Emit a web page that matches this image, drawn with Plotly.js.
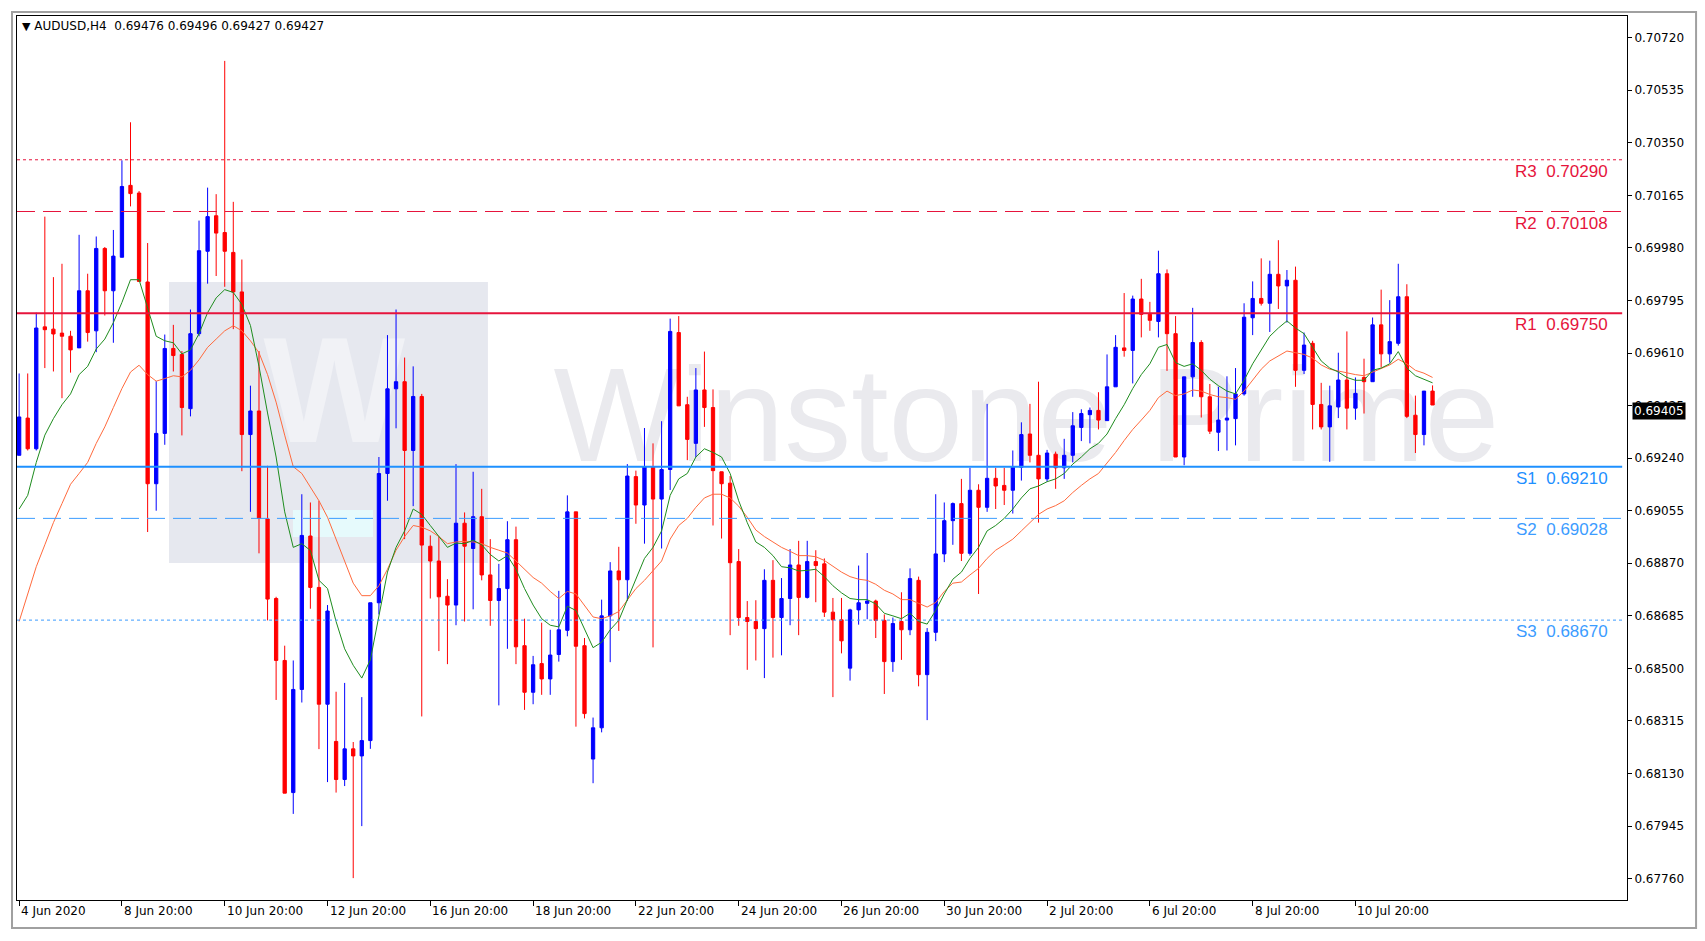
<!DOCTYPE html>
<html><head><meta charset="utf-8">
<script src="https://cdn.plot.ly/plotly-3.0.1.min.js"></script>
<style>html,body{margin:0;padding:0;background:#fff;} #chart{width:1705px;height:941px;}</style>
</head><body><div id="chart"></div>
<script>
const symbolName = "AUDUSD,H4";
const lastBarText = ["0.69476", "0.69496", "0.69427", "0.69427"];
const currentPrice = 0.69405;

const openP = [0.69250,0.69381,0.69273,0.69702,0.69694,0.69680,0.69669,0.69628,0.69829,0.69688,
0.69978,0.69829,0.69947,0.70200,0.70173,0.69860,0.69150,0.69327,0.69626,0.69605,
0.69414,0.69678,0.69968,0.70093,0.70034,0.69964,0.69825,0.69323,0.69406,0.69026,
0.68746,0.68528,0.68063,0.68426,0.68966,0.68785,0.68374,0.68243,0.68109,0.68217,
0.68192,0.68246,0.68731,0.69186,0.69484,0.69509,0.69267,0.69457,0.68930,0.68878,
0.68754,0.68723,0.69011,0.68922,0.69034,0.68829,0.68739,0.68781,0.68953,0.68580,
0.68416,0.68517,0.68463,0.68549,0.68634,0.69051,0.68580,0.68181,0.68291,0.68685,
0.68843,0.68812,0.69175,0.69075,0.69209,0.69096,0.69200,0.69682,0.69428,0.69292,
0.69480,0.69418,0.69192,0.69152,0.68876,0.68679,0.68665,0.68640,0.68810,0.68679,
0.68746,0.68864,0.68750,0.68876,0.68868,0.68698,0.68671,0.68501,0.68706,0.68729,
0.68737,0.68669,0.68524,0.68665,0.68636,0.68810,0.68478,0.68627,0.68903,0.69020,
0.69080,0.68905,0.69127,0.69067,0.69169,0.69144,0.69127,0.69208,0.69325,0.69250,
0.69167,0.69254,0.69206,0.69250,0.69348,0.69393,0.69408,0.69372,0.69491,0.69628,
0.69619,0.69800,0.69746,0.69721,0.69889,0.69678,0.69244,0.69526,0.69647,0.69456,
0.69331,0.69374,0.69379,0.69466,0.69734,0.69802,0.69785,0.69887,0.69846,0.69866,
0.69549,0.69644,0.69429,0.69350,0.69420,0.69515,0.69416,0.69524,0.69509,0.69709,
0.69607,0.69644,0.69808,0.69391,0.69323,0.69476];
const highP = [0.69538,0.69538,0.69752,0.70090,0.69877,0.69924,0.69688,0.70026,0.69889,0.70020,
0.69983,0.70043,0.70288,0.70422,0.70180,0.69997,0.69511,0.69675,0.69709,0.69617,
0.69763,0.70076,0.70192,0.70169,0.70638,0.70142,0.69939,0.69495,0.69617,0.69213,
0.68752,0.68580,0.68528,0.69113,0.69084,0.69090,0.68723,0.68418,0.68449,0.68241,
0.68399,0.68731,0.69244,0.69673,0.69763,0.69594,0.69563,0.69466,0.68968,0.68964,
0.68814,0.69219,0.69049,0.69192,0.69132,0.68955,0.68868,0.69018,0.68999,0.68675,
0.68544,0.68661,0.68636,0.68773,0.69109,0.69051,0.68607,0.68327,0.68742,0.68874,
0.68928,0.69219,0.69196,0.69346,0.69292,0.69370,0.69731,0.69740,0.69456,0.69557,
0.69615,0.69482,0.69192,0.69177,0.68920,0.68737,0.68740,0.68849,0.68881,0.68818,
0.68920,0.68949,0.68949,0.68916,0.68887,0.68748,0.68748,0.68710,0.68862,0.68906,
0.68742,0.68690,0.68679,0.68768,0.68852,0.68823,0.68642,0.69113,0.69084,0.69084,
0.69167,0.69206,0.69148,0.69431,0.69206,0.69206,0.69267,0.69366,0.69431,0.69509,
0.69269,0.69263,0.69308,0.69402,0.69412,0.69418,0.69472,0.69605,0.69673,0.69821,
0.69812,0.69871,0.69790,0.69970,0.69904,0.69740,0.69526,0.69769,0.69655,0.69501,
0.69491,0.69528,0.69557,0.69785,0.69862,0.69943,0.69935,0.70007,0.69902,0.69914,
0.69682,0.69653,0.69505,0.69495,0.69611,0.69686,0.69524,0.69590,0.69735,0.69833,
0.69796,0.69924,0.69852,0.69460,0.69476,0.69496];
const lowP = [0.69250,0.69267,0.69267,0.69557,0.69545,0.69451,0.69541,0.69628,0.69650,0.69613,
0.69742,0.69646,0.69947,0.70126,0.69862,0.68980,0.69055,0.69287,0.69545,0.69320,
0.69387,0.69669,0.69854,0.69881,0.69843,0.69694,0.69194,0.69051,0.68905,0.68669,
0.68389,0.68061,0.67988,0.68380,0.68710,0.68216,0.68100,0.68063,0.68086,0.67762,
0.67945,0.68217,0.68690,0.69090,0.69345,0.68955,0.69071,0.68331,0.68746,0.68561,
0.68515,0.68652,0.68665,0.68708,0.68810,0.68650,0.68370,0.68569,0.68515,0.68354,
0.68374,0.68407,0.68407,0.68524,0.68613,0.68295,0.68324,0.68096,0.68275,0.68522,
0.68632,0.68737,0.69009,0.68939,0.68574,0.68922,0.69128,0.69424,0.69233,0.69244,
0.69350,0.69003,0.68957,0.68617,0.68650,0.68495,0.68528,0.68466,0.68538,0.68546,
0.68652,0.68617,0.68746,0.68733,0.68681,0.68399,0.68553,0.68457,0.68654,0.68673,
0.68607,0.68410,0.68488,0.68530,0.68617,0.68437,0.68318,0.68596,0.68874,0.68935,
0.68878,0.68897,0.68762,0.69051,0.69061,0.69075,0.69045,0.69161,0.69225,0.69013,
0.69157,0.69132,0.69167,0.69225,0.69300,0.69292,0.69341,0.69372,0.69491,0.69597,
0.69503,0.69665,0.69688,0.69665,0.69547,0.69244,0.69215,0.69456,0.69383,0.69325,
0.69265,0.69267,0.69285,0.69460,0.69673,0.69777,0.69684,0.69765,0.69717,0.69491,
0.69536,0.69341,0.69341,0.69227,0.69381,0.69341,0.69375,0.69397,0.69509,0.69559,
0.69576,0.69636,0.69381,0.69258,0.69285,0.69427];
const closeP = [0.69385,0.69273,0.69698,0.69692,0.69677,0.69669,0.69621,0.69829,0.69682,0.69978,
0.69829,0.69951,0.70196,0.70171,0.69862,0.69150,0.69327,0.69626,0.69601,0.69418,
0.69678,0.69970,0.70090,0.70032,0.69968,0.69825,0.69323,0.69406,0.69028,0.68744,
0.68528,0.68061,0.68426,0.68968,0.68785,0.68374,0.68702,0.68109,0.68217,0.68192,
0.68246,0.68731,0.69186,0.69484,0.69509,0.69267,0.69457,0.68934,0.68878,0.68752,
0.68723,0.69011,0.68930,0.69034,0.68829,0.68739,0.68781,0.68953,0.68576,0.68416,
0.68513,0.68463,0.68547,0.68636,0.69051,0.68578,0.68341,0.68291,0.68685,0.68843,
0.68812,0.69177,0.69075,0.69209,0.69096,0.69200,0.69686,0.69424,0.69306,0.69480,
0.69418,0.69196,0.69150,0.68872,0.68679,0.68665,0.68640,0.68810,0.68679,0.68746,
0.68864,0.68750,0.68876,0.68862,0.68698,0.68671,0.68597,0.68706,0.68731,0.68737,
0.68669,0.68524,0.68658,0.68636,0.68816,0.68478,0.68627,0.68903,0.69020,0.69080,
0.68905,0.69127,0.69067,0.69169,0.69142,0.69127,0.69208,0.69323,0.69250,0.69167,
0.69258,0.69206,0.69250,0.69354,0.69397,0.69408,0.69374,0.69491,0.69630,0.69619,
0.69800,0.69746,0.69725,0.69889,0.69678,0.69244,0.69526,0.69647,0.69456,0.69335,
0.69374,0.69381,0.69466,0.69736,0.69802,0.69785,0.69887,0.69846,0.69866,0.69549,
0.69638,0.69429,0.69350,0.69424,0.69515,0.69416,0.69468,0.69509,0.69709,0.69607,
0.69650,0.69808,0.69387,0.69323,0.69476,0.69427];

const maFast = [0.69061,0.69109,0.69225,0.69321,0.69379,0.69428,0.69466,0.69534,0.69563,0.69624,
0.69659,0.69717,0.69788,0.69868,0.69868,0.69765,0.69669,0.69653,0.69646,0.69607,
0.69621,0.69678,0.69752,0.69804,0.69833,0.69823,0.69781,0.69707,0.69563,0.69399,
0.69244,0.69051,0.68926,0.68939,0.68915,0.68810,0.68781,0.68665,0.68569,0.68511,
0.68466,0.68530,0.68685,0.68839,0.68926,0.68984,0.69061,0.69042,0.69003,0.68964,
0.68926,0.68941,0.68939,0.68951,0.68935,0.68901,0.68878,0.68897,0.68849,0.68781,
0.68723,0.68675,0.68652,0.68646,0.68719,0.68704,0.68636,0.68573,0.68592,0.68636,
0.68669,0.68742,0.68820,0.68887,0.68926,0.68984,0.69109,0.69167,0.69186,0.69244,
0.69273,0.69260,0.69244,0.69186,0.69090,0.69013,0.68945,0.68926,0.68897,0.68858,
0.68854,0.68843,0.68845,0.68849,0.68823,0.68791,0.68766,0.68746,0.68742,0.68742,
0.68727,0.68694,0.68685,0.68675,0.68694,0.68665,0.68656,0.68704,0.68762,0.68814,
0.68839,0.68887,0.68926,0.68984,0.69003,0.69028,0.69061,0.69100,0.69132,0.69142,
0.69157,0.69167,0.69186,0.69219,0.69244,0.69273,0.69292,0.69325,0.69379,0.69428,
0.69485,0.69534,0.69572,0.69630,0.69640,0.69576,0.69563,0.69572,0.69549,0.69518,
0.69495,0.69476,0.69466,0.69514,0.69572,0.69621,0.69669,0.69698,0.69723,0.69698,
0.69678,0.69630,0.69582,0.69557,0.69543,0.69524,0.69514,0.69514,0.69549,0.69557,
0.69572,0.69615,0.69557,0.69530,0.69518,0.69505];
const maSlow = [0.68665,0.68762,0.68858,0.68935,0.69013,0.69080,0.69148,0.69186,0.69225,0.69292,
0.69350,0.69418,0.69485,0.69543,0.69567,0.69534,0.69511,0.69520,0.69530,0.69526,
0.69549,0.69586,0.69630,0.69659,0.69688,0.69706,0.69688,0.69653,0.69611,0.69534,
0.69437,0.69321,0.69210,0.69186,0.69138,0.69090,0.69032,0.68955,0.68878,0.68800,
0.68756,0.68756,0.68791,0.68849,0.68916,0.68964,0.69003,0.68997,0.68984,0.68964,
0.68939,0.68945,0.68947,0.68945,0.68939,0.68926,0.68916,0.68906,0.68878,0.68849,
0.68820,0.68800,0.68771,0.68746,0.68771,0.68762,0.68723,0.68681,0.68675,0.68685,
0.68700,0.68742,0.68781,0.68810,0.68843,0.68878,0.68955,0.69003,0.69028,0.69067,
0.69100,0.69113,0.69113,0.69100,0.69071,0.69032,0.68987,0.68964,0.68945,0.68926,
0.68912,0.68897,0.68897,0.68893,0.68880,0.68858,0.68839,0.68823,0.68814,0.68810,
0.68796,0.68775,0.68762,0.68742,0.68742,0.68729,0.68716,0.68732,0.68771,0.68800,
0.68804,0.68829,0.68852,0.68887,0.68916,0.68935,0.68955,0.68984,0.69013,0.69042,
0.69061,0.69073,0.69090,0.69119,0.69144,0.69167,0.69186,0.69221,0.69260,0.69302,
0.69341,0.69374,0.69408,0.69453,0.69476,0.69460,0.69466,0.69480,0.69476,0.69464,
0.69456,0.69453,0.69447,0.69476,0.69514,0.69553,0.69582,0.69601,0.69617,0.69611,
0.69605,0.69592,0.69568,0.69553,0.69547,0.69539,0.69534,0.69530,0.69543,0.69557,
0.69568,0.69588,0.69572,0.69549,0.69539,0.69524];

const pivotNames = ["R3", "R2", "R1", "S1", "S2", "S3"];
const pivotValues = [0.70290, 0.70108, 0.69750, 0.69210, 0.69028, 0.68670];

const xTickLabels = ["4 Jun 2020","8 Jun 20:00","10 Jun 20:00","12 Jun 20:00","16 Jun 20:00","18 Jun 20:00",
  "22 Jun 20:00","24 Jun 20:00","26 Jun 20:00","30 Jun 20:00","2 Jul 20:00","6 Jul 20:00","8 Jul 20:00","10 Jul 20:00"];
const xTickBars = [0,12,24,36,48,60,72,84,96,108,120,132,144,156];
const yTickLabels = ["0.67760","0.67945","0.68130","0.68315","0.68500","0.68685","0.68870","0.69055",
  "0.69240","0.69425","0.69610","0.69795","0.69980","0.70165","0.70350","0.70535","0.70720"];

const barIndex = openP.map((_, i) => i);
const xRange = [-0.25, 187.7];
const yRange = [0.67685, 0.70796];

const RED = "#E6143C", BLUE = "#1E90FF";
const pivotStyle = {
  R3: {color: RED, dash: "dot", width: 1},
  R2: {color: RED, dash: "18px,8px", width: 1},
  R1: {color: RED, dash: "solid", width: 2},
  S1: {color: BLUE, dash: "solid", width: 2},
  S2: {color: "#3C9CFF", dash: "18px,8px", width: 1},
  S3: {color: "#3C9CFF", dash: "dot", width: 1}
};

// Watermark sits on the hidden base axes (0..1), price data on overlaid axes drawn above it.
const traces = [
  {type: "scatter", mode: "text", x: [0.627], y: [0.535], xaxis: "x", yaxis: "y", text: ["Winstone Prime"],
   textfont: {family: "Liberation Sans, Arial, sans-serif", size: 134, color: "#EAEAEE"},
   hoverinfo: "skip", showlegend: false, cliponaxis: false},
  {type: "scatter", mode: "text", x: [0.197], y: [0.56], xaxis: "x", yaxis: "y", text: ["W"],
   textfont: {family: "Liberation Sans, Arial, sans-serif", size: 150, color: "#F1F2F6", weight: "bold"},
   hoverinfo: "skip", showlegend: false, cliponaxis: false},
  {type: "candlestick", x: barIndex, open: openP, high: highP, low: lowP, close: closeP, xaxis: "x2", yaxis: "y2",
   increasing: {line: {color: "#0000FF", width: 1}, fillcolor: "#0000FF"},
   decreasing: {line: {color: "#FF0000", width: 1}, fillcolor: "#FF0000"},
   whiskerwidth: 0, hoverinfo: "skip", showlegend: false},
  {type: "scatter", mode: "lines", x: barIndex, y: maSlow, xaxis: "x2", yaxis: "y2",
   line: {color: "#FF6A3D", width: 1}, hoverinfo: "skip", showlegend: false},
  {type: "scatter", mode: "lines", x: barIndex, y: maFast, xaxis: "x2", yaxis: "y2",
   line: {color: "#1E8C1E", width: 1}, hoverinfo: "skip", showlegend: false}
];

const shapes = [
  {type: "rect", xref: "paper", yref: "paper", x0: 0.0944, x1: 0.2925, y0: 0.3812, y1: 0.6991,
   fillcolor: "#E6E8EF", line: {width: 0}, layer: "below"},
  {type: "rect", xref: "paper", yref: "paper", x0: 0.1714, x1: 0.2211, y0: 0.4106, y1: 0.4412,
   fillcolor: "#E6FAFC", line: {width: 0}, layer: "below"},
  {type: "rect", xref: "paper", yref: "paper", x0: -0.0031, x1: 1.0429, y0: -0.0317, y1: 1.0045,
   fillcolor: "rgba(0,0,0,0)", line: {color: "#A0A0A0", width: 2}, layer: "above"}
];
pivotNames.forEach((n, i) => {
  const s = pivotStyle[n];
  shapes.push({type: "line", xref: "paper", yref: "y2", x0: 0, x1: 0.997, y0: pivotValues[i], y1: pivotValues[i],
    line: {color: s.color, width: s.width, dash: s.dash}, layer: "above"});
});

const annotations = [];
pivotNames.forEach((n, i) => {
  const s = pivotStyle[n];
  annotations.push({xref: "paper", yref: "y2", x: 0.9895, y: pivotValues[i], xanchor: "right", yanchor: "top",
    yshift: 0, showarrow: false, text: n + "\u00a0\u00a0" + pivotValues[i].toFixed(5),
    font: {family: "Liberation Sans, Arial, sans-serif", size: 17, color: s.color}});
});
xTickBars.forEach((b, i) => {
  annotations.push({xref: "x2", yref: "paper", x: b, y: 0, xanchor: "left", yanchor: "top", yshift: -2,
    showarrow: false, text: xTickLabels[i], font: {family: "DejaVu Sans, sans-serif", size: 12, color: "#000"}});
});
annotations.push({xref: "paper", yref: "paper", x: 0.002, y: 0.9985, xanchor: "left", yanchor: "top", showarrow: false,
  text: '<span style="font-size:11px">\u25BC</span>\u00a0' + symbolName + "\u00a0\u00a0" + lastBarText.join(" "),
  font: {family: "DejaVu Sans, sans-serif", size: 12, color: "#000"}});
annotations.push({xref: "paper", yref: "y2", x: 1.003, y: currentPrice, xanchor: "left", yanchor: "middle",
  showarrow: false, text: currentPrice.toFixed(5), bgcolor: "#000", borderpad: 1,
  font: {family: "DejaVu Sans, sans-serif", size: 12, color: "#fff"}});

const layout = {
  width: 1705, height: 941,
  margin: {l: 17, r: 78, t: 16, b: 41},
  paper_bgcolor: "#fff", plot_bgcolor: "#fff",
  showlegend: false, boxgap: 0.45,
  xaxis: {range: [0, 1], visible: false, fixedrange: true},
  yaxis: {range: [0, 1], visible: false, fixedrange: true},
  xaxis2: {overlaying: "x", anchor: "y2", range: xRange, showgrid: false, zeroline: false, showline: true,
    linecolor: "#000", linewidth: 1, mirror: true, ticks: "outside", ticklen: 5, tickcolor: "#000",
    tickvals: xTickBars, showticklabels: false, rangeslider: {visible: false}, fixedrange: true},
  yaxis2: {overlaying: "y", anchor: "x2", range: yRange, side: "right", showgrid: false, zeroline: false,
    showline: true, linecolor: "#000", linewidth: 1, mirror: true, ticks: "outside", ticklen: 4, tickcolor: "#000",
    tickvals: yTickLabels.map(Number), ticktext: yTickLabels,
    tickfont: {family: "DejaVu Sans, sans-serif", size: 12, color: "#000"}, fixedrange: true},
  shapes: shapes, annotations: annotations
};

Plotly.newPlot("chart", traces, layout, {displayModeBar: false, staticPlot: true});
</script></body></html>
